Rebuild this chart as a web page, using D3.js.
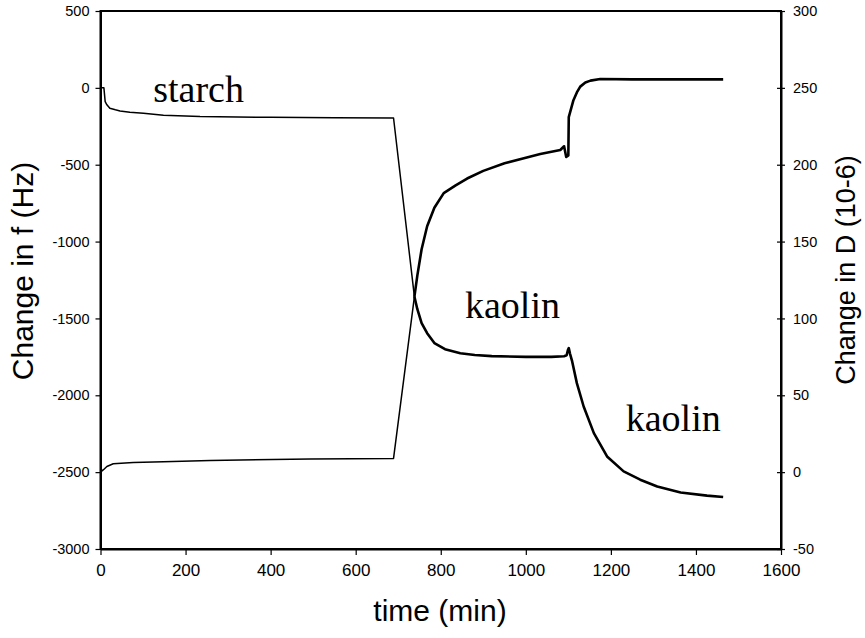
<!DOCTYPE html>
<html>
<head>
<meta charset="utf-8">
<script src="https://cdn.jsdelivr.net/npm/d3@7"></script>
<style>
  html, body { margin: 0; padding: 0; background: #fff; }
  svg { display: block; }
</style>
</head>
<body>
<svg id="chart" width="865" height="638"></svg>
<script>
// Frequency shift (Hz), left axis
const fTime  = [0, 8, 11, 15, 22, 35, 46, 69, 101, 148, 234, 400, 550, 689,
                738, 745, 755, 768, 785, 810, 846, 880, 920, 1000, 1060, 1090, 1096, 1099, 1101, 1104,
                1109, 1120, 1136, 1160, 1191, 1230, 1269, 1309, 1364, 1426, 1464];
const fValue = [0, 0, -90, -110, -133, -143, -150, -159, -165, -178, -187, -192, -195, -196,
                -1357, -1440, -1530, -1596, -1660, -1700, -1726, -1738, -1745, -1750, -1750, -1746, -1740, -1705, -1693, -1730,
                -1780, -1921, -2073, -2246, -2398, -2495, -2549, -2593, -2632, -2653, -2662];

// Dissipation shift (10^-6), right axis
const dTime  = [0, 7, 15, 30, 77, 148, 258, 493, 689,
                738, 745, 755, 768, 785, 807, 835, 862, 900, 950, 1000, 1034, 1081, 1090, 1095, 1100, 1101,
                1112, 1120, 1128, 1140, 1152, 1175, 1250, 1350, 1464];
const dValue = [0, 1.6, 3.7, 5.5, 6.3, 6.8, 7.6, 8.5, 8.9,
                114, 128, 145, 160, 172, 181.5, 186.5, 191, 196, 201, 204.5, 207, 209.6, 212, 205, 206, 231,
                242, 247, 250.8, 253.5, 254.7, 255.8, 255.5, 255.5, 255.5];

// Adsorption stages and their labels
const kaolinStart = 738;
const stageLabels = [
  { text: "starch", t: 124, f: -90 },
  { text: "kaolin", t: 857, f: -1495 },
  { text: "kaolin", t: 1235, f: -2233 }
];

const xTicks = [0, 200, 400, 600, 800, 1000, 1200, 1400, 1600];
const fTicks = [-3000, -2500, -2000, -1500, -1000, -500, 0, 500];
const dTicks = [-50, 0, 50, 100, 150, 200, 250, 300];

const svg = d3.select("#chart");
const L = 100.5, R = 781, T = 11, B = 549;

const x  = d3.scaleLinear().domain([0, 1600]).range([L, R]);
const yF = d3.scaleLinear().domain([-3000, 500]).range([B, T]);
const yD = d3.scaleLinear().domain([-50, 300]).range([B, T]);

const fPts = fTime.map((t, i) => [t, fValue[i]]);
const dPts = dTime.map((t, i) => [t, dValue[i]]);

const lineF = d3.line().x(d => x(d[0])).y(d => yF(d[1]));
const lineD = d3.line().x(d => x(d[0])).y(d => yD(d[1]));

const plot = svg.append("g");
function drawSeries(pts, line) {
  const early = pts.filter(d => d[0] <= kaolinStart);
  const late  = pts.filter(d => d[0] >= kaolinStart);
  plot.append("path").attr("d", line(early)).attr("fill", "none")
      .attr("stroke", "#000").attr("stroke-width", 1.5).attr("stroke-linejoin", "round");
  plot.append("path").attr("d", line(late)).attr("fill", "none")
      .attr("stroke", "#000").attr("stroke-width", 2.6).attr("stroke-linejoin", "round");
}
drawSeries(fPts, lineF);
drawSeries(dPts, lineD);

// Frame
svg.append("rect").attr("x", L).attr("y", T).attr("width", R - L).attr("height", B - T)
   .attr("fill", "none").attr("stroke", "#000").attr("stroke-width", 2);

const tickFont = "'Liberation Sans', Arial, sans-serif";
const plain = d => String(d);

// Bottom axis
const gx = svg.append("g").attr("transform", `translate(0,${B})`)
  .call(d3.axisBottom(x).tickValues(xTicks).tickFormat(plain).tickSize(6).tickSizeOuter(0).tickPadding(9));
gx.select(".domain").attr("stroke-width", 2);
gx.selectAll(".tick line").attr("stroke-width", 1.2);
gx.selectAll(".tick text").attr("font-family", tickFont).attr("font-size", 17).attr("fill", "#000");

// Left axis
const gl = svg.append("g").attr("transform", `translate(${L},0)`)
  .call(d3.axisLeft(yF).tickValues(fTicks).tickFormat(plain).tickSize(5).tickSizeOuter(0).tickPadding(6));
gl.select(".domain").attr("stroke-width", 2);
gl.selectAll(".tick line").attr("stroke-width", 1.2);
gl.selectAll(".tick text").attr("font-family", tickFont).attr("font-size", 14.5).attr("fill", "#000");

// Right axis (cross ticks)
const gr = svg.append("g").attr("transform", `translate(${R},0)`)
  .call(d3.axisRight(yD).tickValues(dTicks).tickFormat(plain).tickSize(4).tickSizeOuter(0).tickPadding(8));
gr.select(".domain").attr("stroke-width", 2);
gr.selectAll(".tick line").attr("x1", -4).attr("stroke-width", 1.2);
gr.selectAll(".tick text").attr("font-family", tickFont).attr("font-size", 14.5).attr("fill", "#000");

// Axis titles
svg.append("text").attr("x", 440).attr("y", 621).attr("text-anchor", "middle")
   .attr("font-family", tickFont).attr("font-size", 30).text("time (min)");
svg.append("text").attr("transform", "translate(33,271) rotate(-90)").attr("text-anchor", "middle")
   .attr("font-family", tickFont).attr("font-size", 30).text("Change in f (Hz)");
svg.append("text").attr("transform", "translate(855,270) rotate(-90)").attr("text-anchor", "middle")
   .attr("font-family", tickFont).attr("font-size", 27).text("Change in D (10-6)");

// Stage labels
svg.append("g").selectAll("text").data(stageLabels).join("text")
   .attr("x", d => x(d.t)).attr("y", d => yF(d.f))
   .attr("font-family", "'Liberation Serif', 'Times New Roman', serif").attr("font-size", 38)
   .text(d => d.text);
</script>
</body>
</html>
